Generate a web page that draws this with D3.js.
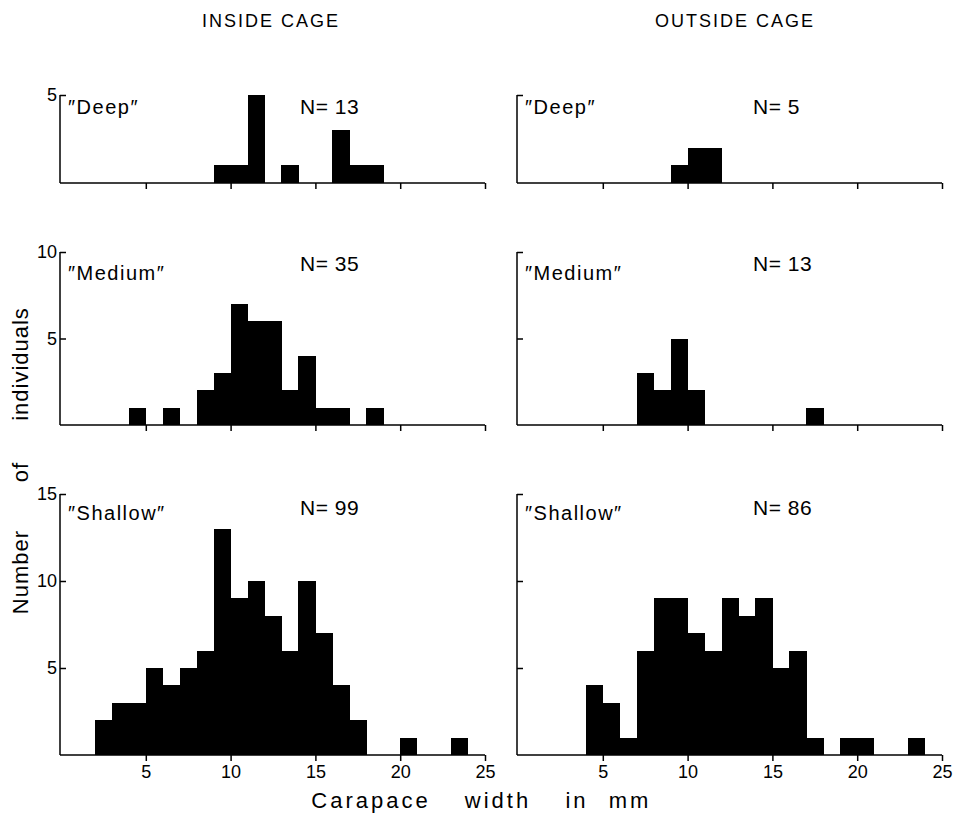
<!DOCTYPE html>
<html>
<head>
<meta charset="utf-8">
<script src="https://cdn.jsdelivr.net/npm/d3@7"></script>
<style>
  body { margin: 0; background: #fff; }
  svg { display: block; }
  text { fill: #000; }
</style>
</head>
<body>
<svg id="chart" width="961" height="816"></svg>
<script>
// carapace width bins, 1 mm wide, starting at 0..24 mm
var binStarts = d3.range(0, 25);
var xTicks = [5, 10, 15, 20, 25];

// counts per 1 mm bin
var insideDeep    = [0,0,0,0,0,0,0,0,0,1,1,5,0,1,0,0,3,1,1,0,0,0,0,0,0];
var insideMedium  = [0,0,0,0,1,0,1,0,2,3,7,6,6,2,4,1,1,0,1,0,0,0,0,0,0];
var insideShallow = [0,0,2,3,3,5,4,5,6,13,9,10,8,6,10,7,4,2,0,0,1,0,0,1,0];
var outsideDeep    = [0,0,0,0,0,0,0,0,0,1,2,2,0,0,0,0,0,0,0,0,0,0,0,0,0];
var outsideMedium  = [0,0,0,0,0,0,0,3,2,5,2,0,0,0,0,0,0,1,0,0,0,0,0,0,0];
var outsideShallow = [0,0,0,0,4,3,1,6,9,9,7,6,9,8,9,5,6,1,0,1,1,0,0,1,0];

var depthNames = ["Deep", "Medium", "Shallow"];
var yMax = [5, 10, 15];
var insideN = [13, 35, 99];
var outsideN = [5, 13, 86];

var xTitleWords = ["Carapace", "width", "in", "mm"];
var yTitleWords = ["Number", "of", "individuals"];

var svg = d3.select("#chart");
var sans = "'Liberation Sans', Arial, Helvetica, sans-serif";
var narrow = "'Liberation Sans Narrow', 'Arial Narrow', sans-serif";

// layout: one row per depth, one column per cage side
var rows = [
  {top: 95,  base: 183, labelY: 114, nY: 114},
  {top: 252, base: 425, labelY: 280, nY: 271},
  {top: 494, base: 755, labelY: 520, nY: 515}
];
var cols = [
  {left: 61,  right: 485, axisX: 60,  labels: true,  title: "INSIDE CAGE",  titleX: 271, nX: 300,
   data: [insideDeep, insideMedium, insideShallow], n: insideN},
  {left: 518, right: 942, axisX: 517, labels: false, title: "OUTSIDE CAGE", titleX: 735, nX: 753,
   data: [outsideDeep, outsideMedium, outsideShallow], n: outsideN}
];

cols.forEach(function(col) {

  svg.append("text")
     .attr("x", col.titleX)
     .attr("y", 27)
     .attr("text-anchor", "middle")
     .style("font-family", sans)
     .style("font-size", "18px")
     .style("letter-spacing", "2px")
     .text(col.title);

  var x = d3.scaleLinear().domain([0, 25]).range([col.left, col.right]);

  rows.forEach(function(row, i) {

    var y = d3.scaleLinear().domain([0, yMax[i]]).range([row.base, row.top]);
    var g = svg.append("g");

    g.selectAll("rect")
     .data(binStarts.filter(function(b) { return col.data[i][b] > 0; }))
     .enter().append("rect")
     .attr("x", function(b) { return x(b); })
     .attr("y", function(b) { return y(col.data[i][b]); })
     .attr("width", function(b) { return x(b + 1) - x(b) + 0.3; })
     .attr("height", function(b) { return y(0) - y(col.data[i][b]); })
     .attr("fill", "#000")
     .attr("shape-rendering", "crispEdges");

    // x axis, numbers only on the bottom row
    var xAxis = d3.axisBottom(x)
        .tickValues(xTicks)
        .tickSize(6)
        .tickSizeOuter(0)
        .tickPadding(4)
        .tickFormat(i == 2 ? d3.format("d") : "");

    var xg = g.append("g")
       .attr("transform", "translate(0," + row.base + ")")
       .call(xAxis);
    xg.select(".domain").attr("d", "M" + col.axisX + ",0H" + col.right);

    // y axis, ticks pointing inward, closing tick on top
    var yTicks = d3.range(5, yMax[i] + 1, 5);
    var yAxis = d3.axisLeft(y)
        .tickValues(yTicks)
        .tickSizeInner(-6)
        .tickSizeOuter(0)
        .tickPadding(3)
        .tickFormat(col.labels ? d3.format("d") : "");

    var yg = g.append("g")
       .attr("transform", "translate(" + col.axisX + ",0)")
       .call(yAxis);
    yg.select(".domain").attr("d", "M0," + row.base + "V" + row.top);

    svg.selectAll("path.domain, .tick line")
       .attr("stroke", "#000")
       .attr("stroke-width", 1.5);

    svg.selectAll(".tick text")
       .style("font-family", narrow)
       .style("font-size", "18px");

    // panel label and sample size
    g.append("text")
     .attr("x", col.axisX + 8)
     .attr("y", row.labelY)
     .style("font-family", sans)
     .style("font-size", "20px")
     .style("letter-spacing", "1.5px")
     .text("\u2033" + depthNames[i] + "\u2033");

    g.append("text")
     .attr("x", col.nX)
     .attr("y", row.nY)
     .style("font-family", sans)
     .style("font-size", "21px")
     .style("letter-spacing", "0.5px")
     .text("N= " + col.n[i]);
  });
});

// axis titles, words set apart as in the original lettering
var yTitlePos = [572, 472, 364];
svg.selectAll("text.ytitle")
   .data(yTitleWords)
   .enter().append("text")
   .attr("class", "ytitle")
   .attr("transform", function(d, i) { return "translate(28," + yTitlePos[i] + ") rotate(-90)"; })
   .attr("text-anchor", "middle")
   .style("font-family", sans)
   .style("font-size", "22px")
   .style("letter-spacing", "1px")
   .text(function(d) { return d; });

var xTitlePos = [371, 498, 577, 630];
svg.selectAll("text.xtitle")
   .data(xTitleWords)
   .enter().append("text")
   .attr("class", "xtitle")
   .attr("x", function(d, i) { return xTitlePos[i]; })
   .attr("y", 808)
   .attr("text-anchor", "middle")
   .style("font-family", narrow)
   .style("font-size", "22px")
   .style("letter-spacing", "3px")
   .text(function(d) { return d; });
</script>
</body>
</html>
